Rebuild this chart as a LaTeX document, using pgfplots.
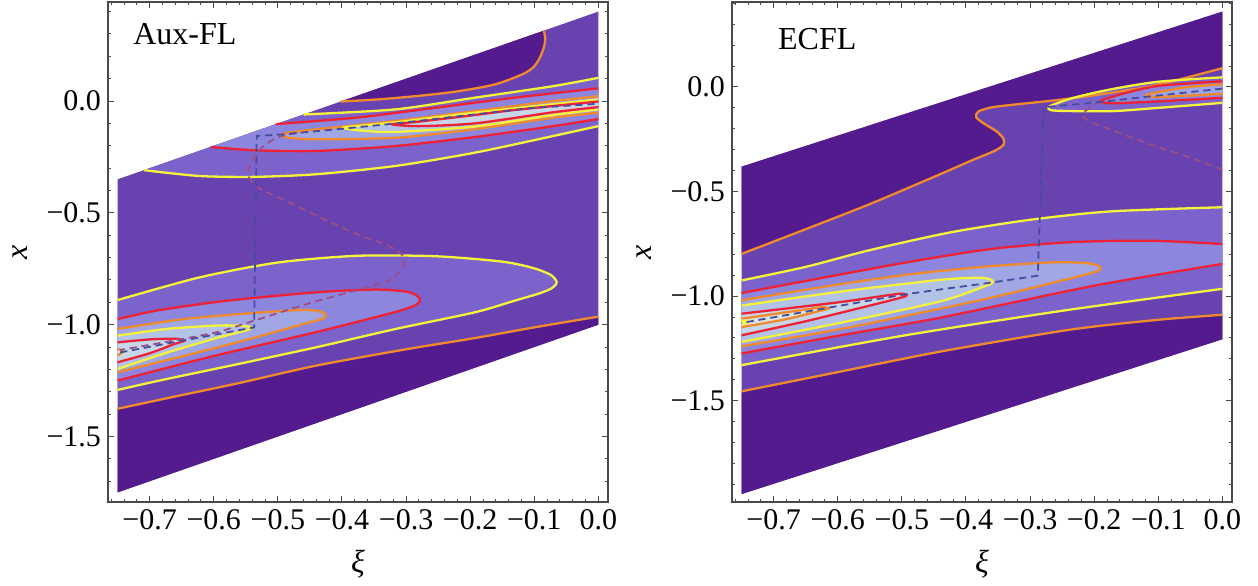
\documentclass[border=0pt]{standalone}
\usepackage{fontspec}
\setmainfont{Liberation Serif}
\usepackage{pgfplots}
\usepackage{pgfplotstable}
\pgfplotsset{compat=1.18}

\definecolor{lv0}{HTML}{531B8D}
\definecolor{lv1}{HTML}{6842AF}
\definecolor{lv2}{HTML}{7C63CB}
\definecolor{lv3}{HTML}{8D86DE}
\definecolor{lv4}{HTML}{A1A6E4}
\definecolor{lv5}{HTML}{B3C2E7}
\definecolor{lv6}{HTML}{C6D7E7}
\definecolor{lv7}{HTML}{D9E3DD}
\definecolor{lv8}{HTML}{EAE8CC}
\definecolor{cyel}{HTML}{F4F23A}
\definecolor{cora}{HTML}{F08A2E}
\definecolor{cred}{HTML}{EE2236}
\definecolor{dblue}{HTML}{464C9E}
\definecolor{dmauve}{HTML}{9C4E88}
\definecolor{frm}{HTML}{4A4A4A}

% ---------- left panel (Aux-FL): xi, x ----------
\pgfplotstableread[row sep=\\]{x y\\ -0.75 -1.75\\ 0 -1.0\\ 0 0.4\\ -0.75 -0.35\\}\Apar
\pgfplotstableread[row sep=\\]{x y\\
-0.402 -0.002\\ -0.346 0.007\\ -0.285 0.022\\ -0.223 0.042\\ -0.162 0.074\\ -0.119 0.119\\
-0.102 0.150\\ -0.092 0.190\\ -0.085 0.240\\ -0.083 0.280\\ -0.085 0.315\\}\Aot
\pgfplotstableread[row sep=\\]{x y\\
-0.75 -1.376\\ -0.65 -1.315\\ -0.562 -1.262\\ -0.44 -1.183\\ -0.3 -1.11\\ -0.193 -1.06\\
-0.1 -1.012\\ 0 -0.964\\ nan nan\\ 0 -1.0\\ nan nan\\ -0.75 -1.75\\}\Aob
\pgfplotstableread[row sep=\\]{x y\\
-0.709 -0.309\\ -0.623 -0.335\\ -0.537 -0.339\\ -0.439 -0.327\\ -0.316 -0.290\\ -0.193 -0.231\\
-0.07 -0.156\\ 0 -0.112\\ nan nan\\ 0 0.104\\ -0.07 0.067\\ -0.193 0.015\\ -0.316 -0.037\\ -0.46 -0.06\\}\Ayt
\pgfplotstableread[row sep=\\]{x y\\
-0.605 -0.205\\ -0.537 -0.220\\ -0.439 -0.223\\ -0.316 -0.201\\ -0.193 -0.161\\ -0.07 -0.112\\
0 -0.080\\ nan nan\\ 0 0.057\\ -0.131 0.015\\ -0.254 -0.030\\ -0.377 -0.074\\ -0.503 -0.103\\}\Art
\pgfplotstableread[row sep=\\]{x y\\
0 0.022\\ -0.07 0.0\\ -0.193 -0.045\\ -0.316 -0.089\\ -0.439 -0.126\\ -0.48 -0.140\\ -0.497 -0.153\\
-0.48 -0.165\\ -0.439 -0.171\\ -0.316 -0.164\\ -0.193 -0.126\\ -0.07 -0.074\\ 0 -0.052\\}\Aat
\pgfplotstableread[row sep=\\]{x y\\
0 0.007\\ -0.07 -0.014\\ -0.193 -0.052\\ -0.254 -0.073\\ -0.316 -0.095\\ -0.37 -0.110\\ -0.399 -0.119\\
-0.37 -0.132\\ -0.316 -0.138\\ -0.193 -0.114\\ -0.07 -0.062\\ 0 -0.037\\}\Azt
\pgfplotstableread[row sep=\\]{x y\\
0 -0.002\\ -0.131 -0.040\\ -0.2 -0.065\\ -0.28 -0.092\\ -0.322 -0.104\\ -0.28 -0.112\\
-0.193 -0.100\\ -0.07 -0.050\\ 0 -0.027\\}\Aqt
\pgfplotstableread[row sep=\\]{x y\\
-0.75 -0.89\\ -0.623 -0.789\\ -0.5 -0.722\\ -0.377 -0.692\\ -0.254 -0.694\\ -0.15 -0.718\\
-0.1 -0.748\\ -0.074 -0.778\\ -0.065 -0.81\\ -0.072 -0.836\\ -0.092 -0.860\\ -0.131 -0.893\\
-0.193 -0.945\\ -0.316 -1.019\\ -0.44 -1.101\\ -0.562 -1.176\\ -0.685 -1.25\\ -0.75 -1.292\\}\Ayb
\pgfplotstableread[row sep=\\]{x y\\
-0.75 -0.975\\ -0.685 -0.935\\ -0.58 -0.893\\ -0.439 -0.855\\ -0.347 -0.843\\ -0.30 -0.852\\
-0.283 -0.870\\ -0.278 -0.893\\ -0.285 -0.912\\ -0.31 -0.938\\ -0.377 -0.988\\ -0.45 -1.04\\
-0.6 -1.14\\ -0.75 -1.25\\}\Arb
\pgfplotstableread[row sep=\\]{x y\\
-0.75 -1.019\\ -0.647 -0.975\\ -0.544 -0.949\\ -0.47 -0.935\\ -0.44 -0.937\\ -0.428 -0.948\\
-0.425 -0.962\\ -0.432 -0.976\\ -0.46 -0.997\\ -0.544 -1.064\\ -0.647 -1.14\\ -0.75 -1.213\\}\Aab
\pgfplotstableread[row sep=\\]{x y\\
-0.75 -1.049\\ -0.673 -1.019\\ -0.596 -1.004\\ -0.555 -1.005\\ -0.541 -1.015\\ -0.555 -1.03\\
-0.596 -1.06\\ -0.673 -1.125\\ -0.75 -1.198\\}\Azb
\pgfplotstableread[row sep=\\]{x y\\
-0.75 -1.079\\ -0.7 -1.066\\ -0.66 -1.063\\ -0.645 -1.071\\ -0.66 -1.085\\ -0.7 -1.128\\ -0.75 -1.168\\}\Aqb
\pgfplotstableread[row sep=\\]{x y\\ -0.75 -1.108\\ -0.742 -1.12\\ -0.75 -1.138\\}\Apb
\pgfplotstableread[row sep=\\]{x y\\
-0.746 -1.124\\ -0.648 -1.071\\ -0.537 -1.012\\ -0.533 -0.156\\ -0.497 -0.150\\ -0.4 -0.124\\
-0.316 -0.1\\ -0.2 -0.062\\ -0.1 -0.030\\ 0 -0.012\\}\Ablue
\pgfplotstableread[row sep=\\]{x y\\
-0.47 -0.143\\ -0.5 -0.162\\ -0.525 -0.208\\ -0.543 -0.283\\ -0.546 -0.335\\ -0.531 -0.387\\
-0.488 -0.446\\ -0.439 -0.513\\ -0.377 -0.595\\ -0.328 -0.647\\ -0.303 -0.699\\ -0.309 -0.759\\
-0.333 -0.81\\ -0.39 -0.856\\ -0.44 -0.895\\ -0.48 -0.93\\ -0.537 -0.982\\ -0.596 -1.034\\
-0.68 -1.08\\ -0.746 -1.113\\}\Amauve

% ---------- right panel (ECFL) ----------
\pgfplotstableread[row sep=\\]{x y\\ -0.75 -1.946\\ 0 -1.206\\ 0 0.36\\ -0.75 -0.381\\}\Bpar
\pgfplotstableread[row sep=\\]{x y\\
-0.75 -0.798\\ -0.65 -0.68\\ -0.55 -0.56\\ -0.45 -0.43\\ -0.39 -0.35\\ -0.355 -0.305\\
-0.341 -0.275\\ -0.342 -0.245\\ -0.352 -0.213\\ -0.372 -0.175\\ -0.384 -0.145\\ -0.381 -0.118\\
-0.362 -0.099\\ -0.33 -0.086\\ -0.237 -0.055\\ -0.112 0.003\\ 0 0.09\\
nan nan\\ 0 0.36\\ nan nan\\ -0.75 -0.381\\}\Bot
\pgfplotstableread[row sep=\\]{x y\\
-0.75 -1.455\\ -0.611 -1.37\\ -0.44 -1.265\\ -0.237 -1.16\\ -0.1 -1.113\\ 0 -1.089\\
nan nan\\ 0 -1.206\\ nan nan\\ -0.75 -1.946\\}\Bob
\pgfplotstableread[row sep=\\]{x y\\
0 0.046\\ -0.1 0.025\\ -0.175 -0.012\\ -0.23 -0.05\\ -0.26 -0.08\\ -0.271 -0.097\\
-0.262 -0.113\\ -0.175 -0.116\\ -0.1 -0.1\\ 0 -0.076\\}\Byt
\pgfplotstableread[row sep=\\]{x y\\
0 0.027\\ -0.1 0.005\\ -0.15 -0.028\\ -0.18 -0.055\\ -0.19 -0.068\\ -0.175 -0.078\\ -0.12 -0.072\\ 0 -0.052\\}\Brt
\pgfplotstableread[row sep=\\]{x y\\
0 0.013\\ -0.06 -0.003\\ -0.105 -0.028\\ -0.12 -0.04\\ -0.1 -0.048\\ 0 -0.033\\}\Bat
\pgfplotstableread[row sep=\\]{x y\\
-0.75 -0.925\\ -0.65 -0.86\\ -0.55 -0.78\\ -0.424 -0.695\\ -0.3 -0.635\\ -0.175 -0.595\\ 0 -0.575\\
nan nan\\ 0 -0.965\\ -0.25 -1.07\\ -0.5 -1.19\\ -0.75 -1.33\\}\Byb
\pgfplotstableread[row sep=\\]{x y\\
-0.75 -0.985\\ -0.611 -0.905\\ -0.486 -0.835\\ -0.362 -0.775\\ -0.237 -0.742\\ -0.112 -0.735\\ 0 -0.751\\
nan nan\\ 0 -0.846\\ -0.2 -0.95\\ -0.44 -1.103\\ -0.6 -1.19\\ -0.75 -1.274\\}\Brb
\pgfplotstableread[row sep=\\]{x y\\
-0.75 -1.02\\ -0.611 -0.95\\ -0.486 -0.895\\ -0.362 -0.857\\ -0.26 -0.838\\ -0.21 -0.843\\
-0.193 -0.856\\ -0.19 -0.87\\ -0.2 -0.886\\ -0.25 -0.925\\ -0.35 -1.0\\ -0.44 -1.06\\
-0.6 -1.16\\ -0.75 -1.24\\}\Bab
\pgfplotstableread[row sep=\\]{x y\\
-0.75 -1.045\\ -0.6 -0.98\\ -0.44 -0.922\\ -0.38 -0.912\\ -0.362 -0.92\\ -0.358 -0.933\\
-0.37 -0.952\\ -0.44 -1.025\\ -0.6 -1.13\\ -0.75 -1.219\\}\Bzb
\pgfplotstableread[row sep=\\]{x y\\
-0.75 -1.084\\ -0.6 -1.03\\ -0.52 -0.995\\ -0.5 -0.988\\ -0.492 -0.995\\ -0.5 -1.006\\
-0.55 -1.045\\ -0.65 -1.12\\ -0.75 -1.187\\}\Bqb
\pgfplotstableread[row sep=\\]{x y\\
-0.75 -1.108\\ -0.66 -1.068\\ -0.625 -1.053\\ -0.614 -1.058\\ -0.625 -1.068\\ -0.68 -1.11\\ -0.75 -1.148\\}\Bpb
\pgfplotstableread[row sep=\\]{x y\\ -0.75 -1.116\\ -0.738 -1.124\\ -0.75 -1.132\\}\Bsb
\pgfplotstableread[row sep=\\]{x y\\
0 -0.008\\ -0.112 -0.045\\ -0.2 -0.075\\ -0.279 -0.097\\ -0.288 -0.902\\ -0.36 -0.935\\
-0.44 -0.968\\ -0.492 -0.99\\ -0.614 -1.055\\ -0.75 -1.128\\}\Bblue
\pgfplotstableread[row sep=\\]{x y\\
-0.19 -0.068\\ -0.21 -0.105\\ -0.218 -0.14\\ -0.2 -0.175\\ -0.175 -0.203\\ -0.112 -0.275\\
-0.05 -0.338\\ 0 -0.395\\}\Bmauve

\pgfplotsset{
  rg/.style={draw=none, fill=#1, unbounded coords=discard, forget plot},
  cl/.style={draw=#1, line width=1.15pt, unbounded coords=jump, smooth, tension=0.45,
    forget plot, line join=round},
  dl/.style={draw=#1, line width=0.9pt, dash pattern=on 3.6pt off 2.4pt, forget plot},
  panel/.style={
    width=250pt, height=250pt, scale only axis, anchor=south west,
    axis on top, tick align=inside, clip=true,
    xmin=-0.765, xmax=0.015,
    xtick={-0.7,-0.6,-0.5,-0.4,-0.3,-0.2,-0.1,0},
    xticklabels={−0.7,−0.6,−0.5,−0.4,−0.3,−0.2,−0.1,0.0},
    minor xtick={-0.76,-0.74,-0.72,-0.68,-0.66,-0.64,-0.62,-0.58,-0.56,-0.54,-0.52,-0.48,-0.46,-0.44,-0.42,
      -0.38,-0.36,-0.34,-0.32,-0.28,-0.26,-0.24,-0.22,-0.18,-0.16,-0.14,-0.12,-0.08,-0.06,-0.04,-0.02},
    major tick length=2.8pt, minor tick length=1.4pt,
    axis line style={frm, line width=0.6pt},
    every tick/.style={frm, line width=0.5pt},
    ticklabel style={font=\fontsize{15}{17}\selectfont, text=black},
    xlabel={\textit{ξ}}, ylabel={\textit{x}},
    label style={font=\fontsize{16}{18}\selectfont},
    xlabel style={at={([yshift=-31pt]axis description cs:0.5,0)}, anchor=center},
    ylabel style={at={([xshift=-44pt]axis description cs:0,0.5)}, anchor=center},
  },
}

\begin{document}
\begin{tikzpicture}
\useasboundingbox (0pt,0pt) rectangle (629pt,292.5pt);

\begin{axis}[panel, at={(54pt,41.5pt)}, ymin=-1.793, ymax=0.443,
  ytick={-1.5,-1,-0.5,0}, yticklabels={−1.5,−1.0,−0.5,0.0},
  minor ytick={-1.7,-1.6,-1.4,-1.3,-1.2,-1.1,-0.9,-0.8,-0.7,-0.6,-0.4,-0.3,-0.2,-0.1,0.1,0.2,0.3,0.4}]
\addplot[rg=lv1] table {\Apar} --cycle;
\addplot[rg=lv0] table {\Aot} --cycle;
\addplot[rg=lv0] table {\Aob} --cycle;
\addplot[rg=lv2] table {\Ayt} --cycle;
\addplot[rg=lv3] table {\Art} --cycle;
\addplot[rg=lv4] table {\Aat} --cycle;
\addplot[rg=lv5] table {\Azt} --cycle;
\addplot[rg=lv6] table {\Aqt} --cycle;
\addplot[rg=lv2] table {\Ayb} --cycle;
\addplot[rg=lv3] table {\Arb} --cycle;
\addplot[rg=lv4] table {\Aab} --cycle;
\addplot[rg=lv5] table {\Azb} --cycle;
\addplot[rg=lv6] table {\Aqb} --cycle;
\addplot[rg=lv7] table {\Apb} --cycle;
\addplot[cl=cora] table {\Aot};
\addplot[cl=cora] table {\Aob};
\addplot[cl=cyel] table {\Ayt};
\addplot[cl=cred] table {\Art};
\addplot[cl=cora] table {\Aat};
\addplot[cl=cyel] table {\Azt};
\addplot[cl=cred] table {\Aqt};
\addplot[cl=cyel] table {\Ayb};
\addplot[cl=cred] table {\Arb};
\addplot[cl=cora] table {\Aab};
\addplot[cl=cyel] table {\Azb};
\addplot[cl=cred] table {\Aqb};
\addplot[cl=cora] table {\Apb};
\addplot[dl=dmauve, smooth, tension=0.5] table {\Amauve};
\addplot[dl=dblue] table {\Ablue};
\node[font=\fontsize{16}{18}\selectfont] at (axis cs:-0.645,0.298) {Aux-FL};
\end{axis}

\begin{axis}[panel, at={(366pt,41.5pt)}, ymin=-1.984, ymax=0.406,
  ytick={-1.5,-1,-0.5,0}, yticklabels={−1.5,−1.0,−0.5,0.0},
  minor ytick={-1.9,-1.8,-1.7,-1.6,-1.4,-1.3,-1.2,-1.1,-0.9,-0.8,-0.7,-0.6,-0.4,-0.3,-0.2,-0.1,0.1,0.2,0.3,0.4}]
\addplot[rg=lv1] table {\Bpar} --cycle;
\addplot[rg=lv0] table {\Bot} --cycle;
\addplot[rg=lv0] table {\Bob} --cycle;
\addplot[rg=lv2] table {\Byt} --cycle;
\addplot[rg=lv3] table {\Brt} --cycle;
\addplot[rg=lv4] table {\Bat} --cycle;
\addplot[rg=lv2] table {\Byb} --cycle;
\addplot[rg=lv3] table {\Brb} --cycle;
\addplot[rg=lv4] table {\Bab} --cycle;
\addplot[rg=lv5] table {\Bzb} --cycle;
\addplot[rg=lv6] table {\Bqb} --cycle;
\addplot[rg=lv7] table {\Bpb} --cycle;
\addplot[rg=lv8] table {\Bsb} --cycle;
\addplot[cl=cora] table {\Bot};
\addplot[cl=cora] table {\Bob};
\addplot[cl=cyel] table {\Byt};
\addplot[cl=cred] table {\Brt};
\addplot[cl=cora] table {\Bat};
\addplot[cl=cyel] table {\Byb};
\addplot[cl=cred] table {\Brb};
\addplot[cl=cora] table {\Bab};
\addplot[cl=cyel] table {\Bzb};
\addplot[cl=cred] table {\Bqb};
\addplot[cl=cora] table {\Bpb};
\addplot[cl=cyel] table {\Bsb};
\addplot[dl=dmauve, smooth, tension=0.5] table {\Bmauve};
\addplot[dl=dblue] table {\Bblue};
\node[font=\fontsize{16}{18}\selectfont] at (axis cs:-0.632,0.23) {ECFL};
\end{axis}
\end{tikzpicture}
\end{document}
